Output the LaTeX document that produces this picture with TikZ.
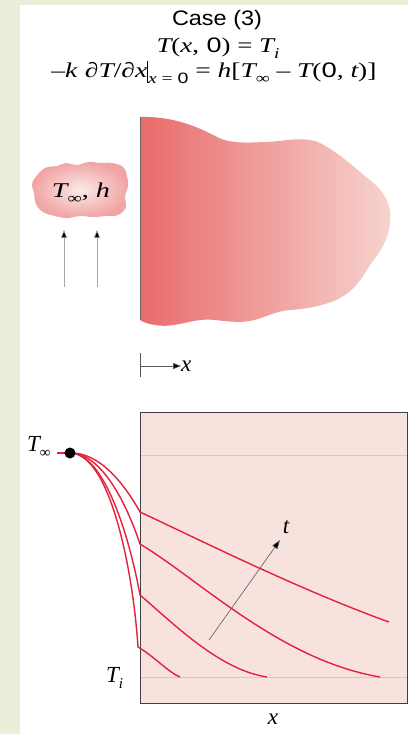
\documentclass[tikz,border=0pt]{standalone}
\usepackage{graphicx}
\usepackage{fontspec}
\setmainfont{Liberation Sans}
\newfontfamily\seriffam{Liberation Serif}
\usetikzlibrary{arrows.meta}
\newcommand{\mi}[1]{{\seriffam\itshape #1}}
\newcommand{\up}[1]{{\seriffam #1}}
\newcommand{\lowsub}[1]{\raisebox{-0.3em}{\fontsize{15pt}{16pt}\selectfont #1}}
\newcommand{\wbox}[2]{\resizebox{#1}{\height}{#2}}
\definecolor{bggreen}{HTML}{E9EFD9}
\definecolor{slabL}{HTML}{E86B6B}
\definecolor{slabR}{HTML}{F7D4CF}
\definecolor{boxfill}{HTML}{F8E2DE}
\definecolor{curvered}{HTML}{E2223A}
\definecolor{refline}{HTML}{D9C4C0}
\definecolor{cloudout}{HTML}{F0A4A4}
\definecolor{cloudin}{HTML}{FBEAE8}
\tikzset{
  lbl/.style={inner sep=0pt, font=\fontsize{21pt}{23pt}\selectfont},
  biglbl/.style={inner sep=0pt, font=\fontsize{23pt}{25pt}\selectfont},
  curve/.style={draw=curvered, line width=1.4pt},
  flowarrow/.style={draw=gray!70, line width=0.6pt, -{Triangle[length=8pt,width=6pt,fill=black]}},
}
\begin{document}
\begin{tikzpicture}[x=1pt,y=-1pt]
\useasboundingbox (0,0) rectangle (408,734);
\fill[bggreen] (0,0) rectangle (408,734);
\fill[white] (20,5) rectangle (408,734);

% title lines
\node[lbl, anchor=base] (title) at (217,25.5) {\wbox{90pt}{Case (3)}};
\node[lbl, anchor=base] (ic) at (218,52) {\wbox{123pt}{\mi{T}\up{(}\mi{x}\up{,} 0\up{) = }\mi{T}\lowsub{\mi{i}}}};
\node[lbl, anchor=base] (bc) at (214,77) {\wbox{325pt}{\up{–}\mi{k} \mi{∂T}\up{/}\mi{∂x}\rule[-0.3em]{0.7pt}{1.05em}\lowsub{\mi{x}\up{ = }0}\up{ = }\mi{h}\up{[}\mi{T}\lowsub{\up{∞}}\up{ – }\mi{T}\up{(}0\up{, }\mi{t}\up{)]}}};

% slab
\shade[left color=slabL, right color=slabR]
  (140,117) .. controls (175,116) and (200,128) .. (217,137)
  .. controls (232,145) and (255,142) .. (267,142)
  .. controls (285,141) and (305,136) .. (320,143)
  .. controls (335,150) and (355,168) .. (370,180)
  .. controls (385,192) and (392,205) .. (390,222)
  .. controls (389,240) and (378,255) .. (370,265)
  .. controls (362,278) and (355,290) .. (340,298)
  .. controls (325,306) and (305,309) .. (290,310)
  .. controls (275,311) and (265,318) .. (250,321)
  .. controls (230,324) and (215,318) .. (200,320)
  .. controls (185,322) and (170,328) .. (155,325)
  .. controls (148,324) and (143,322) .. (140,320) -- cycle;
\draw[gray!80!black, line width=0.8pt] (140,117) coordinate (wallT) -- (140,320) coordinate (wallB);

% cloud
\shade[inner color=cloudin, outer color=cloudout]
  plot[smooth cycle, tension=0.7] coordinates {
    (35,178) (45,168) (57,166) (66,163) (77,165) (89,162) (100,163) (112,163)
    (123,167) (127,176) (128,186) (125,197) (126,207) (118,215) (106,216)
    (93,217) (80,216) (67,218) (55,216) (43,212) (36,204) (34,193) (32,185)};
\node[lbl, anchor=base] (amb) at (81,197) {\wbox{58pt}{\mi{T}\lowsub{\up{∞}}\up{, }\mi{h}}};

% flow arrows
\coordinate (f1s) at (64,287); \coordinate (f1e) at (64,230);
\coordinate (f2s) at (97,287); \coordinate (f2e) at (97,230);
\draw[flowarrow] (f1s) -- (f1e);
\draw[flowarrow] (f2s) -- (f2e);

% x axis marker
\coordinate (xt1) at (140,353); \coordinate (xt2) at (140,377);
\coordinate (xo) at (140,366);
\draw[gray!70!black, line width=0.6pt] (xt1) -- (xt2);
\node[biglbl, anchor=west] (xlab) at (181,366) {\mi{x}};
\draw[gray!70!black, line width=0.6pt, -{Triangle[length=8pt,width=6pt,fill=black]}] (xo) -- (xlab.west);

% bottom plot box
\fill[boxfill] (140,412) rectangle (407,703);
\draw[refline, line width=0.7pt] (140,455) coordinate (rl1) -- (407,455) coordinate (rl2);
\draw[refline, line width=0.7pt] (140,677) coordinate (rl3) -- (407,677) coordinate (rl4);
\draw[black!75, line width=0.8pt] (407,412) -- (140,412) -- (140,703) -- (407,703) -- cycle;

% labels
\node[biglbl, anchor=base west] (Tinf) at (27,451) {\mi{T}\lowsub{\up{∞}}};
\node[biglbl, anchor=base west] (Ti) at (106,682) {\mi{T}\lowsub{\mi{i}}};
\node[biglbl] (xax) at (273,719) {\mi{x}};

% curves
\coordinate (P) at (70,453);
\draw[curve] (57,453) -- (P);
\draw[curve] (P) .. controls (100,452) and (125,485) .. (140,512)
  .. controls (200,540) and (300,590) .. (389,622);
\draw[curve] (P) .. controls (102,453) and (127,505) .. (140,544)
  .. controls (200,580) and (280,660) .. (380,677);
\draw[curve] (P) .. controls (105,453) and (130,540) .. (140,595)
  .. controls (175,625) and (220,670) .. (267,677);
\draw[curve] (P) .. controls (110,453) and (133,570) .. (138,647)
  .. controls (155,657) and (168,672) .. (180,677);
\fill[black] (P) circle (5.5pt);

% time arrow
\coordinate (ts) at (209,640);
\node[biglbl] (tlab) at (286,527) {\mi{t}};
\coordinate (te) at (280,540);
\draw[gray!70!black, line width=0.6pt, -{Triangle[length=9pt,width=6pt,fill=black]}] (ts) -- (te);
\end{tikzpicture}
\end{document}
